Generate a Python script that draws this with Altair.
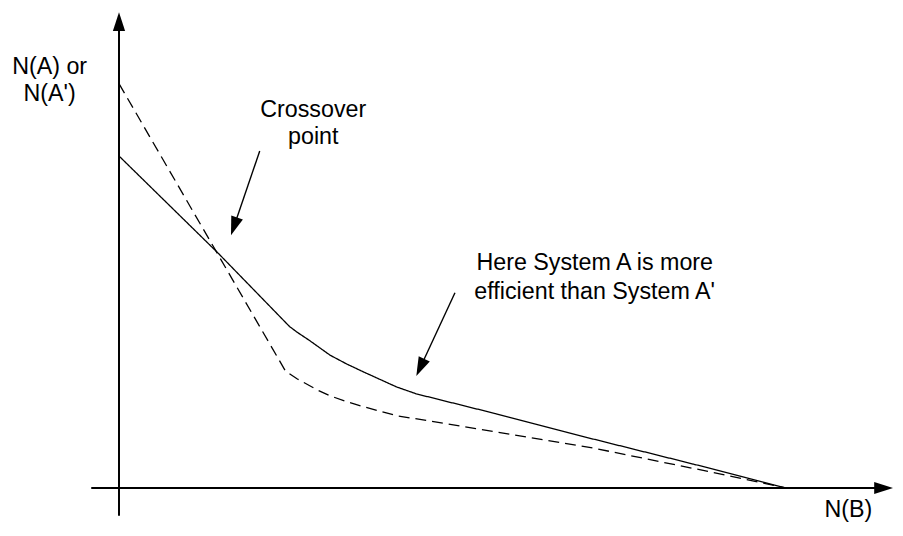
import math
import altair as alt
import pandas as pd

# Drawing units: origin where the two axes cross, x to the right = N(B), y up = N(A) / N(A')
# System A (solid) and System A' (dashed)
solid_x = [0, 100, 172, 180, 192, 213, 230, 247, 280, 300, 380, 480, 580, 673]
solid_y = [335, 237, 163, 157, 149, 134, 125, 117, 102, 95, 75, 49, 24, 0]
dashed_x = [0, 168, 180, 200, 213, 230, 247, 280, 360, 480, 593, 673]
dashed_y = [408, 118, 110, 99, 93, 87, 82, 73, 60, 40, 17, 0]

# text labels
labels = ["N(A) or", "N(A')", "Crossover", "point",
          "Here System A is more", "efficient than System A'", "N(B)"]
label_x = [-70, -70, 196, 196, 480, 480, 736]
label_y = [418, 390, 374, 347, 220, 191, -29]

# arrows: y axis, x axis, crossover pointer, efficiency pointer (start -> tip)
arrow_x1 = [0, -28, 142, 339]
arrow_y1 = [-28, 0, 340, 197]
arrow_x2 = [0, 781, 113, 300]
arrow_y2 = [480, 0, 255, 113]
arrow_w = [2.0, 2.0, 1.4, 1.4]

HEAD_LEN = 17

rows = []
heads = []
for x1, y1, x2, y2, w in zip(arrow_x1, arrow_y1, arrow_x2, arrow_y2, arrow_w):
    dx, dy = x2 - x1, y2 - y1
    L = math.hypot(dx, dy)
    bx, by = x2 - dx / L * HEAD_LEN, y2 - dy / L * HEAD_LEN
    rows.append({"x": x1, "y": y1, "x2": bx, "y2": by, "w": w})
    heads.append({"x": x2, "y": y2, "angle": math.degrees(math.atan2(dx, dy)) % 360})

seg_df = pd.DataFrame(rows)
head_df = pd.DataFrame(heads)

line_df = pd.DataFrame(
    [{"x": x, "y": y, "series": "System A", "o": i} for i, (x, y) in enumerate(zip(solid_x, solid_y))]
    + [{"x": x, "y": y, "series": "System A'", "o": i} for i, (x, y) in enumerate(zip(dashed_x, dashed_y))]
)
text_df = pd.DataFrame({"x": label_x, "y": label_y, "t": labels})

xs = alt.Scale(domain=[-112, 783], nice=False, zero=False)
ys = alt.Scale(domain=[-34, 482], nice=False, zero=False)

lines = alt.Chart(line_df).mark_line(color="black", strokeWidth=1.3).encode(
    x=alt.X("x:Q", scale=xs, axis=None),
    y=alt.Y("y:Q", scale=ys, axis=None),
    detail="series:N",
    order="o:Q",
    strokeDash=alt.StrokeDash("series:N",
                              scale=alt.Scale(domain=["System A", "System A'"], range=[[1, 0], [11, 6]]),
                              legend=None),
)

segs = alt.Chart(seg_df).mark_rule(color="black").encode(
    x=alt.X("x:Q", scale=xs, axis=None),
    y=alt.Y("y:Q", scale=ys, axis=None),
    x2="x2:Q",
    y2="y2:Q",
    strokeWidth=alt.StrokeWidth("w:Q", scale=None),
)

arrowheads = alt.Chart(head_df).mark_point(
    shape="M0,0L0.65,2L-0.65,2Z", filled=True, color="black", size=361, opacity=1, strokeWidth=0
).encode(
    x=alt.X("x:Q", scale=xs, axis=None),
    y=alt.Y("y:Q", scale=ys, axis=None),
    angle=alt.Angle("angle:Q", scale=None),
)

texts = alt.Chart(text_df).mark_text(
    font="Liberation Sans", fontSize=23.5, align="center", baseline="alphabetic", color="black"
).encode(
    x=alt.X("x:Q", scale=xs, axis=None),
    y=alt.Y("y:Q", scale=ys, axis=None),
    text="t:N",
)

chart = alt.layer(segs, lines, arrowheads, texts).properties(
    width=895, height=516, autosize=alt.AutoSizeParams(type="none"), padding=0,
    background="white",
).configure_view(stroke=None)

chart.save("out.html", embed_options={"renderer": "svg", "actions": False})
